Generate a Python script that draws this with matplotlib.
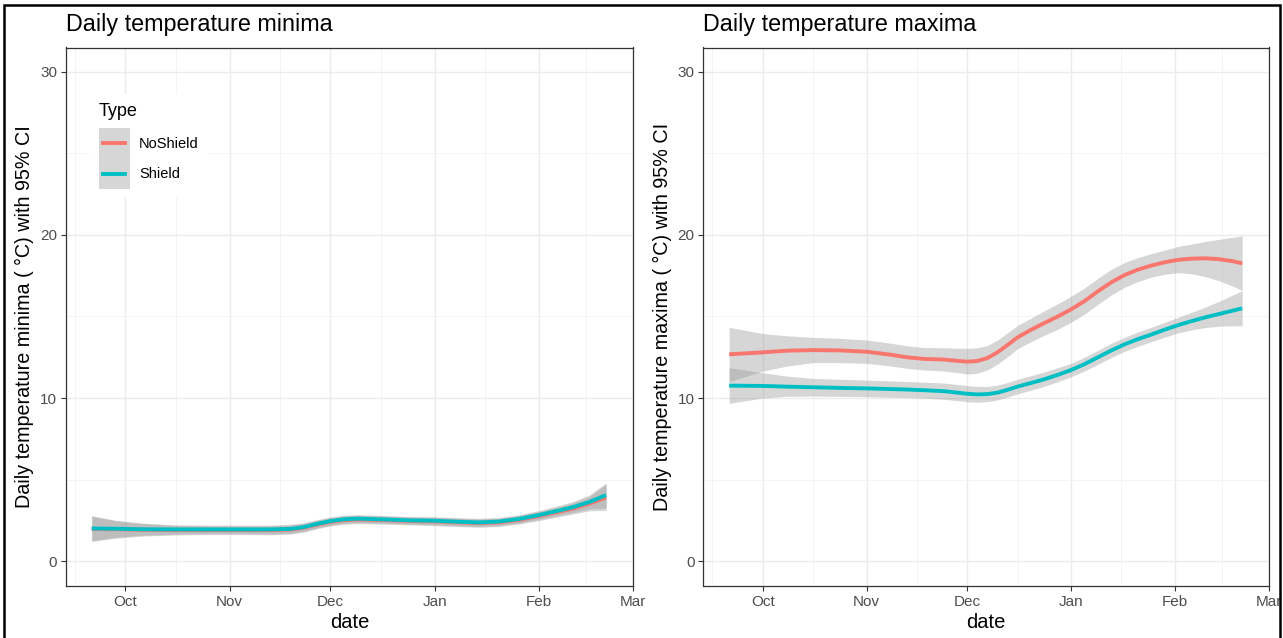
import matplotlib
matplotlib.use("Agg")
import matplotlib.pyplot as plt
import matplotlib.dates as mdates
from matplotlib.patches import Patch, Rectangle
from matplotlib.lines import Line2D
from matplotlib.legend_handler import HandlerTuple, HandlerLine2D
import numpy as np
import datetime as dt

plt.rcParams['font.family'] = ['Liberation Sans', 'DejaVu Sans']

# ---------------- data ----------------
min_dates = ["2018-09-21", "2018-09-28", "2018-10-06", "2018-10-16", "2018-10-26",
             "2018-11-05", "2018-11-13", "2018-11-19", "2018-11-23", "2018-11-27",
             "2018-12-01", "2018-12-05", "2018-12-09", "2018-12-16", "2018-12-24",
             "2019-01-01", "2019-01-08", "2019-01-14", "2019-01-20", "2019-01-26",
             "2019-02-01", "2019-02-06", "2019-02-11", "2019-02-16", "2019-02-21"]
min_shield = [2.00, 1.98, 1.95, 1.94, 1.94, 1.94, 1.94, 1.97, 2.08, 2.28,
              2.45, 2.56, 2.60, 2.56, 2.50, 2.47, 2.41, 2.37, 2.42, 2.58,
              2.82, 3.05, 3.30, 3.62, 4.05]
min_shield_lo = [1.25, 1.45, 1.58, 1.65, 1.68, 1.68, 1.66, 1.70, 1.82, 2.03,
                 2.20, 2.31, 2.35, 2.32, 2.27, 2.22, 2.16, 2.12, 2.17, 2.33,
                 2.55, 2.76, 2.97, 3.20, 3.25]
min_shield_hi = [2.78, 2.50, 2.33, 2.22, 2.20, 2.20, 2.20, 2.25, 2.35, 2.54,
                 2.70, 2.81, 2.85, 2.80, 2.74, 2.72, 2.66, 2.62, 2.67, 2.84,
                 3.10, 3.36, 3.64, 4.05, 4.80]
min_noshield = [1.97, 1.95, 1.92, 1.90, 1.90, 1.90, 1.90, 1.93, 2.04, 2.23,
                2.40, 2.51, 2.55, 2.52, 2.46, 2.43, 2.37, 2.33, 2.37, 2.52,
                2.76, 2.98, 3.21, 3.52, 3.90]
min_noshield_lo = [1.20, 1.40, 1.53, 1.60, 1.63, 1.63, 1.61, 1.65, 1.77, 1.98,
                   2.15, 2.26, 2.30, 2.27, 2.22, 2.17, 2.11, 2.07, 2.12, 2.27,
                   2.48, 2.68, 2.88, 3.08, 3.10]
min_noshield_hi = [2.75, 2.48, 2.30, 2.18, 2.16, 2.16, 2.16, 2.21, 2.31, 2.50,
                   2.66, 2.77, 2.80, 2.76, 2.70, 2.68, 2.62, 2.58, 2.62, 2.78,
                   3.04, 3.29, 3.55, 3.95, 4.70]

max_dates = ["2018-09-21", "2018-10-01", "2018-10-08", "2018-10-16", "2018-10-24",
             "2018-11-01", "2018-11-08", "2018-11-13", "2018-11-18", "2018-11-24",
             "2018-11-28", "2018-12-01", "2018-12-04", "2018-12-07", "2018-12-10",
             "2018-12-13", "2018-12-16", "2018-12-20", "2018-12-24", "2018-12-28",
             "2019-01-01", "2019-01-05", "2019-01-09", "2019-01-13", "2019-01-17",
             "2019-01-21", "2019-01-25", "2019-01-29", "2019-02-02", "2019-02-06",
             "2019-02-10", "2019-02-14", "2019-02-18", "2019-02-21"]
max_noshield = [12.68, 12.80, 12.90, 12.94, 12.92, 12.84, 12.66, 12.50, 12.40, 12.36,
                12.28, 12.23, 12.27, 12.45, 12.80, 13.25, 13.72, 14.18, 14.60, 15.00,
                15.44, 15.95, 16.55, 17.10, 17.55, 17.88, 18.13, 18.33, 18.48, 18.55,
                18.57, 18.52, 18.40, 18.26]
max_noshield_lo = [11.00, 11.65, 11.95, 12.17, 12.17, 12.13, 11.97, 11.82, 11.72, 11.66,
                   11.56, 11.47, 11.52, 11.72, 12.08, 12.53, 13.02, 13.45, 13.85, 14.22,
                   14.65, 15.15, 15.75, 16.32, 16.80, 17.15, 17.42, 17.60, 17.69, 17.62,
                   17.45, 17.20, 16.88, 16.58]
max_noshield_hi = [14.34, 13.95, 13.82, 13.72, 13.66, 13.56, 13.37, 13.20, 13.10, 13.08,
                   13.05, 13.05, 13.08, 13.22, 13.55, 14.00, 14.45, 14.90, 15.35, 15.78,
                   16.25, 16.75, 17.35, 17.90, 18.32, 18.62, 18.86, 19.08, 19.30, 19.45,
                   19.60, 19.73, 19.85, 19.94]
max_shield = [10.76, 10.74, 10.70, 10.66, 10.62, 10.59, 10.55, 10.52, 10.48, 10.42,
              10.33, 10.26, 10.22, 10.24, 10.33, 10.50, 10.70, 10.92, 11.15, 11.42,
              11.72, 12.08, 12.50, 12.92, 13.30, 13.62, 13.90, 14.20, 14.48, 14.72,
              14.95, 15.15, 15.35, 15.50]
max_shield_lo = [9.67, 10.00, 10.10, 10.12, 10.10, 10.08, 10.05, 10.03, 9.99, 9.92,
                 9.84, 9.77, 9.74, 9.78, 9.88, 10.05, 10.25, 10.48, 10.72, 11.00,
                 11.31, 11.66, 12.07, 12.49, 12.87, 13.18, 13.46, 13.74, 14.00, 14.18,
                 14.32, 14.40, 14.43, 14.42]
max_shield_hi = [11.86, 11.55, 11.35, 11.20, 11.15, 11.10, 11.05, 11.01, 10.97, 10.92,
                 10.83, 10.76, 10.71, 10.71, 10.79, 10.95, 11.15, 11.37, 11.60, 11.86,
                 12.13, 12.50, 12.93, 13.36, 13.73, 14.06, 14.35, 14.65, 14.96, 15.26,
                 15.58, 15.92, 16.30, 16.58]

type_labels = ["NoShield", "Shield"]
titles = ["Daily temperature minima", "Daily temperature maxima"]
ylabels = ["Daily temperature minima ( °C) with 95% CI",
           "Daily temperature maxima ( °C) with 95% CI"]
month_ticks = ["2018-10-01", "2018-11-01", "2018-12-01", "2019-01-01", "2019-02-01", "2019-03-01"]
month_labels = ["Oct", "Nov", "Dec", "Jan", "Feb", "Mar"]
minor_ticks = ["2018-09-16", "2018-10-16", "2018-11-16", "2018-12-16", "2019-01-16", "2019-02-15"]
y_major = [0, 10, 20, 30]
y_minor = [5, 15, 25]

# ---------------- styling ----------------
RED = "#F8766D"
CYAN = "#00BFC4"
BAND = "#999999"
W, H = 1283, 638
fig = plt.figure(figsize=(W / 100, H / 100), dpi=100)


def todate(s):
    return mdates.date2num(dt.datetime.strptime(s, "%Y-%m-%d"))


panels = [
    dict(dates=min_dates, series=[(min_noshield, min_noshield_lo, min_noshield_hi, RED),
                                  (min_shield, min_shield_lo, min_shield_hi, CYAN)]),
    dict(dates=max_dates, series=[(max_noshield, max_noshield_lo, max_noshield_hi, RED),
                                  (max_shield, max_shield_lo, max_shield_hi, CYAN)]),
]
lefts = [66, 703.5]
rights = [633, 1269]
top_px, bot_px = 47.5, 585.5

axes = []
for i, p in enumerate(panels):
    ax = fig.add_axes([lefts[i] / W, (H - bot_px) / H, (rights[i] - lefts[i]) / W,
                       (bot_px - top_px) / H])
    axes.append(ax)
    x = [todate(d) for d in p["dates"]]
    for (m, lo, hi, c) in p["series"]:
        ax.fill_between(x, lo, hi, color=BAND, alpha=0.4, linewidth=0, zorder=2)
    for (m, lo, hi, c) in p["series"]:
        ax.plot(x, m, color=c, lw=2.8, zorder=3, solid_capstyle="butt",
                solid_joinstyle="round")
    x0, x1 = x[0], x[-1]
    span = x1 - x0
    ax.set_xlim(x0 - 0.05 * span, x1 + 0.05 * span)
    ax.set_ylim(-1.5, 31.5)
    ax.set_xticks([todate(d) for d in month_ticks])
    ax.set_xticklabels(month_labels)
    ax.set_xticks([todate(d) for d in minor_ticks], minor=True)
    ax.set_yticks(y_major)
    ax.set_yticks(y_minor, minor=True)
    ax.grid(True, which="major", color="#EBEBEB", lw=1.0, zorder=0)
    ax.grid(True, which="minor", color="#F2F2F2", lw=0.6, zorder=0)
    ax.set_axisbelow(True)
    for s in ax.spines.values():
        s.set_color("#333333")
        s.set_linewidth(0.9)
    ax.tick_params(which="major", direction="out", length=3.5, width=0.8, color="#333333",
                   labelsize=11, labelcolor="#4D4D4D", pad=3)
    ax.tick_params(which="minor", length=0)
    ax.set_xlabel("date", fontsize=14.5, color="black", labelpad=3)
    ax.set_ylabel(ylabels[i], fontsize=14.2, color="black", labelpad=4)
    ax.set_title(titles[i], loc="left", fontsize=16.8, pad=12)


class CenteredLine(HandlerLine2D):
    def create_artists(self, legend, orig_handle, xdescent, ydescent, width, height,
                       fontsize, trans):
        arts = super().create_artists(legend, orig_handle, xdescent, ydescent, width,
                                      height, fontsize, trans)
        for a in arts:
            yd = np.asarray(a.get_ydata(), dtype=float)
            a.set_ydata(np.full_like(yd, height / 2.0 - ydescent))
        return arts


# legend
handles = [(Patch(facecolor=BAND, alpha=0.4, edgecolor="none"),
            Line2D([], [], color=RED, lw=2.8)),
           (Patch(facecolor=BAND, alpha=0.4, edgecolor="none"),
            Line2D([], [], color=CYAN, lw=2.8))]
leg = axes[0].legend(handles, type_labels, title="Type",
                     handler_map={tuple: HandlerTuple(ndivide=1, pad=0),
                                  Line2D: CenteredLine(numpoints=2, marker_pad=0.3)},
                     loc="upper left", bbox_to_anchor=(83 / W, 1 - 87 / H),
                     bbox_transform=fig.transFigure, fontsize=10.5, title_fontsize=13,
                     handlelength=2.1, handleheight=2.8, handletextpad=0.65,
                     labelspacing=0, borderpad=0.6, frameon=True, fancybox=False,
                     alignment="left")
leg._legend_box.sep = 6
leg.get_frame().set_facecolor("white")
leg.get_frame().set_edgecolor("none")
leg.get_frame().set_alpha(1)

# outer border
fig.patches.append(Rectangle((4 / W, -0.01), (1280 - 4) / W, (H - 5) / H + 0.01,
                             transform=fig.transFigure, fill=False, edgecolor="black",
                             lw=1.8, zorder=10))

fig.savefig("out.png", dpi=100)
